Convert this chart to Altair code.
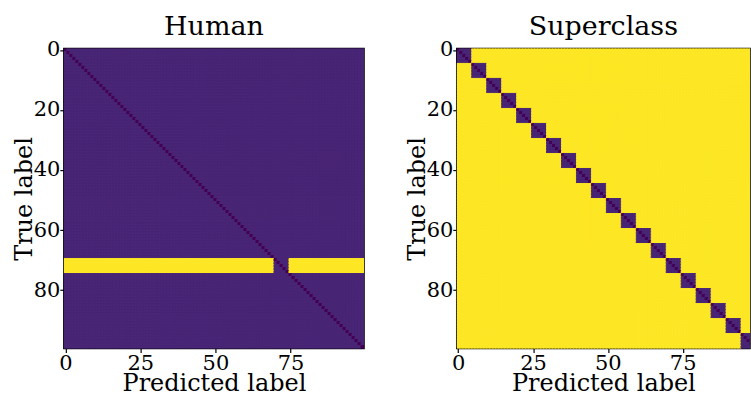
import altair as alt
import pandas as pd

alt.data_transformers.disable_max_rows()

# ---- data ----
n_classes = 100
diag_value = 0.0          # dark diagonal
base_value = 0.1          # purple background / in-superclass block
high_value = 1.0          # yellow
human_bad_rows = [70, 71, 72, 73, 74]      # yellow rows in "Human"
human_exempt_cols = [70, 71, 72, 73, 74]   # gap in the yellow band
superclass_size = 5                        # 20 superclasses of 5 classes
x_ticks = [0, 25, 50, 75]
y_ticks = [0, 20, 40, 60, 80]

rows_h, rows_s = [], []
for i in range(n_classes):
    for j in range(n_classes):
        if i == j:
            vh = diag_value
        elif i in human_bad_rows and j not in human_exempt_cols:
            vh = high_value
        else:
            vh = base_value
        rows_h.append((j - 0.5, j + 0.5, i - 0.5, i + 0.5, vh))
        if i == j:
            vs = diag_value
        elif i // superclass_size == j // superclass_size:
            vs = base_value
        else:
            vs = high_value
        rows_s.append((j - 0.5, j + 0.5, i - 0.5, i + 0.5, vs))

cols = ["x0", "x1", "y0", "y1", "v"]
df_h = pd.DataFrame(rows_h, columns=cols)
df_s = pd.DataFrame(rows_s, columns=cols)

FONT = "DejaVu Serif"
cscale = alt.Scale(scheme="viridis", domain=[0, 1])


def panel(df, title, xmax, width):
    return (
        alt.Chart(df, title=alt.Title(title))
        .mark_rect(strokeWidth=1, clip=True)
        .encode(
            x=alt.X("x0:Q",
                    scale=alt.Scale(domain=[-0.5, xmax], nice=False, zero=False),
                    axis=alt.Axis(values=x_ticks, title="Predicted label")),
            x2="x1",
            y=alt.Y("y0:Q",
                    scale=alt.Scale(domain=[-0.5, 99.5], nice=False, zero=False, reverse=True),
                    axis=alt.Axis(values=y_ticks, title="True label")),
            y2="y1",
            color=alt.Color("v:Q", scale=cscale, legend=None),
            stroke=alt.Stroke("v:Q", scale=cscale, legend=None),
        )
        .properties(width=width, height=301)
    )


left = panel(df_h, "Human", 99.5, 301)
right = panel(df_s, "Superclass", 97.5, 294)

chart = (
    alt.hconcat(left, right, spacing=39)
    .properties(padding={"left": 11, "top": 11, "right": 0, "bottom": 0})
    .configure_view(stroke="black", strokeWidth=1.5)
    .configure_title(font=FONT, fontSize=27, fontWeight="normal", color="black", offset=-2)
    .configure_axis(
        labelFont=FONT, labelFontSize=21, labelColor="black", labelFlush=False,
        titleFont=FONT, titleFontSize=24, titleFontWeight="normal", titleColor="black",
        tickColor="black", tickSize=4, tickWidth=1.2, domain=False, grid=False,
        labelPadding=0, labelAngle=0,
    )
    .configure_axisX(titlePadding=-2)
    .configure_axisY(titlePadding=-3)
)

chart.save("out.html", embed_options={"renderer": "svg", "actions": False})
